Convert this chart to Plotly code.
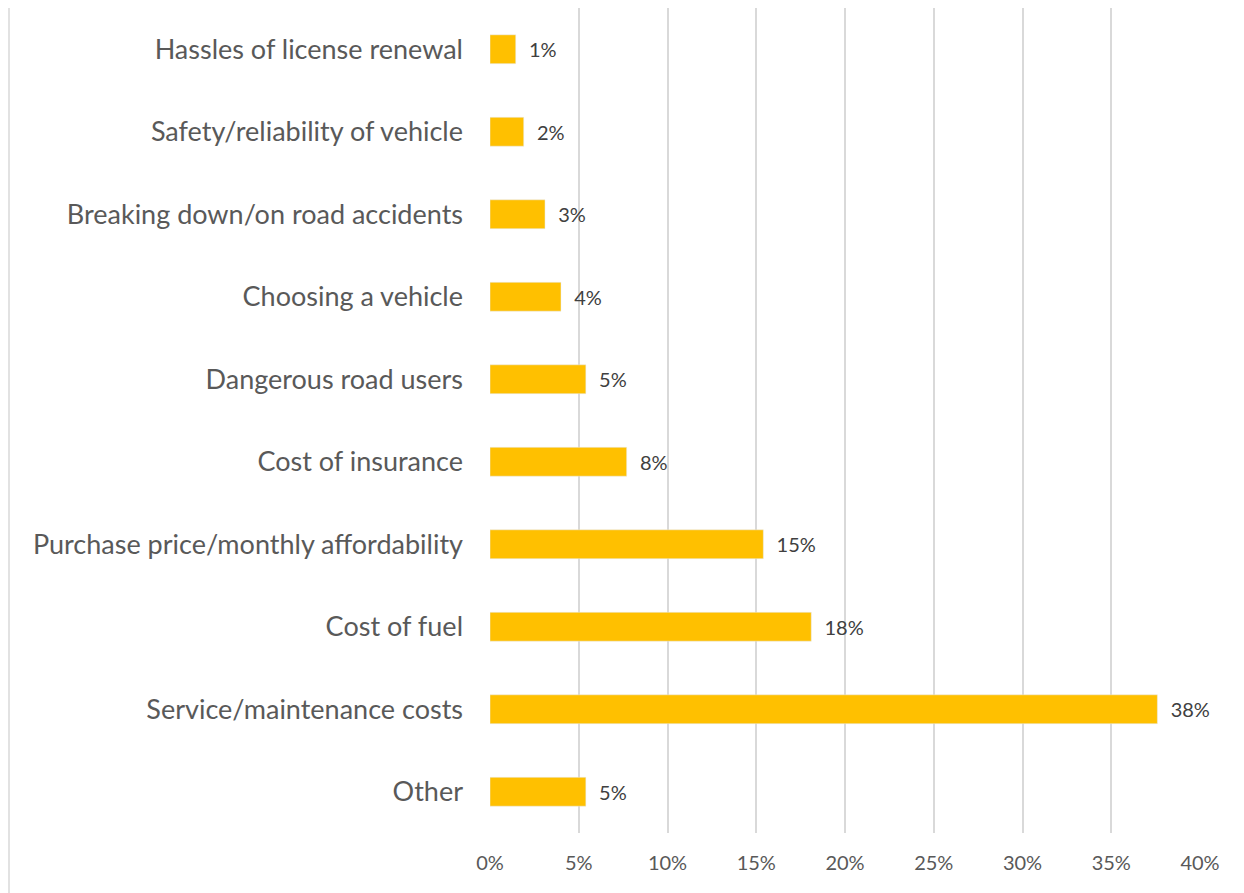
import plotly.graph_objects as go

categorias = ['Hassles of license renewal', 'Safety/reliability of vehicle',
              'Breaking down/on road accidents', 'Choosing a vehicle',
              'Dangerous road users', 'Cost of insurance',
              'Purchase price/monthly affordability', 'Cost of fuel',
              'Service/maintenance costs', 'Other']
valores = [0.0145, 0.019, 0.031, 0.040, 0.054, 0.077, 0.154, 0.181, 0.376, 0.054]
ticks = [0, 0.05, 0.10, 0.15, 0.20, 0.25, 0.30, 0.35, 0.40]

fig = go.Figure(
    data=[
        go.Bar(
            x=valores,
            y=categorias,
            orientation='h',
            width=0.35,
            marker_color='#FFC000',
            texttemplate='\u00a0\u00a0%{x:.0%}',
            textposition='outside',
            textfont=dict(size=20, color='#404040'),
            cliponaxis=False,
        )
    ]
)
fig.update_layout(
    width=1244, height=893,
    margin=dict(l=482, r=52, t=0, b=68),
    paper_bgcolor='white',
    plot_bgcolor='white',
    font_family='Lato',
    showlegend=False,
)
fig.update_xaxes(range=[0, 0.40], tickvals=ticks, tickformat='.0%',
                 showgrid=True, gridcolor='#d9d9d9', gridwidth=1.5,
                 zeroline=False, showline=False, ticks='',
                 ticklabelstandoff=16,
                 tickfont=dict(size=20, color='#595959'))
fig.update_yaxes(autorange='reversed', showgrid=False, showline=False, ticks='',
                 ticklabelstandoff=26,
                 tickfont=dict(size=27, color='#595959'))
# borde izquierdo del marco
fig.add_shape(type='line', xref='paper', yref='paper',
              x0=-481/710, x1=-481/710, y0=-68/825, y1=1.01,
              line=dict(color='#d9d9d9', width=1.5))
fig.write_html("out.html")
